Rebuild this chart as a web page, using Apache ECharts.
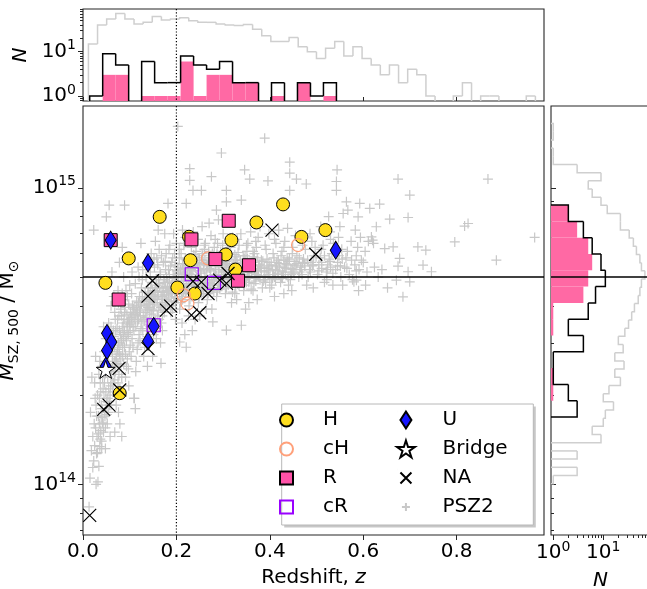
<!DOCTYPE html>
<html>
<head>
<meta charset="utf-8">
<script src="https://cdn.jsdelivr.net/npm/echarts@6.0.0/dist/echarts.min.js"></script>
<style>
html,body{margin:0;padding:0;background:#fff;}
#chart{width:647px;height:589px;}
</style>
</head>
<body>
<div id="chart"></div>
<script>
// ================= DATA =================
// Redshift z, mass M_SZ,500 in units of 1e14 Msun
const H = [[0.1642,7.98],[0.0979,5.78],[0.048,4.78],[0.227,6.84],[0.230,5.70],[0.3178,6.66],[0.3056,5.96],[0.3263,5.30],[0.3713,7.64],[0.4283,8.79],[0.4677,6.83],[0.519,7.20],[0.2021,4.61],[0.2392,4.40],[0.0786,2.03]];
const cH = [[0.4604,6.41],[0.2677,5.78],[0.2156,4.34],[0.2236,4.07]];
const R = [[0.0593,6.66],[0.312,7.74],[0.2321,6.70],[0.2835,5.75],[0.3555,5.48],[0.3319,4.86],[0.0764,4.20]];
const cR = [[0.2328,5.11],[0.2805,4.78],[0.1514,3.44]];
const U = [[0.0593,6.66],[0.1392,5.58],[0.5411,6.16],[0.1514,3.41],[0.1392,3.04],[0.0514,3.23],[0.0608,3.02],[0.0514,2.83],[0.0486,2.50]];
const Bridge = [[0.0486,2.44]];
const NA = [[0.4047,7.20],[0.4983,5.97],[0.1486,4.86],[0.1392,4.31],[0.2355,4.84],[0.2535,4.81],[0.2677,4.40],[0.2927,4.88],[0.3105,5.14],[0.3071,4.76],[0.1786,3.87],[0.1878,3.99],[0.2321,3.72],[0.2499,3.79],[0.1392,2.87],[0.0771,2.46],[0.0786,2.08],[0.0443,1.79],[0.0557,1.85],[0.0143,0.786]];
const PSZ2 = [
[0.013,0.84],[0.015,1.05],[0.018,1.3],[0.021,1.14],[0.024,1.6],[0.026,1.95],[0.028,1.0],[0.019,2.3],[0.029,1.27],[0.023,7.2],[0.027,2.7],[0.016,1.75],[0.03,1.45],
[0.032,1.02],[0.034,1.15],[0.036,1.34],[0.038,1.52],[0.04,1.4],[0.042,1.62],[0.044,1.5],[0.046,1.75],[0.048,1.55],[0.05,1.9],[0.033,1.7],[0.035,1.95],[0.037,2.2],[0.039,1.85],[0.041,2.5],[0.043,2.1],[0.045,2.8],[0.047,2.35],[0.049,3.1],[0.036,2.6],[0.044,3.4],[0.04,1.32],[0.05,7.98],[0.048,1.32],
[0.052,1.6],[0.054,1.75],[0.056,1.9],[0.058,2.0],[0.06,1.85],[0.062,2.2],[0.064,2.05],[0.066,2.4],[0.068,2.25],[0.07,2.6],[0.053,2.3],[0.055,2.55],[0.057,2.8],[0.059,2.45],[0.061,3.0],[0.063,2.7],[0.065,3.3],[0.067,2.9],[0.069,3.6],[0.055,3.5],[0.06,4.0],[0.066,4.3],[0.056,8.74],[0.062,5.2],[0.058,1.45],[0.068,1.5],
[0.071,1.85],[0.073,2.0],[0.075,2.2],[0.077,2.35],[0.079,2.1],[0.081,2.5],[0.083,2.3],[0.085,2.7],[0.087,2.55],[0.089,2.9],[0.072,2.65],[0.074,2.85],[0.076,3.0],[0.078,2.75],[0.08,3.2],[0.082,3.05],[0.084,3.4],[0.086,3.25],[0.088,3.6],[0.073,3.35],[0.077,3.7],[0.081,3.9],[0.085,4.2],[0.089,3.8],[0.075,4.5],[0.083,1.45],[0.079,1.6],[0.087,5.0],[0.089,8.74],[0.078,5.6],[0.084,6.3],[0.076,1.75],
[0.091,2.3],[0.093,2.5],[0.095,2.65],[0.097,2.45],[0.099,2.8],[0.101,2.95],[0.103,2.7],[0.105,3.1],[0.107,2.9],[0.109,3.3],[0.092,3.15],[0.094,3.4],[0.096,3.25],[0.098,3.6],[0.1,3.45],[0.102,3.8],[0.104,3.65],[0.106,4.0],[0.108,3.9],[0.095,4.3],[0.1,4.7],[0.105,5.2],[0.098,2.15],[0.109,1.95],[0.093,5.8],
[0.11,1.95],[0.112,1.8],[0.114,2.6],[0.116,2.85],[0.118,3.0],[0.12,3.2],[0.122,3.05],[0.124,3.35],[0.126,3.5],[0.128,3.3],[0.111,3.6],[0.113,3.75],[0.115,3.9],[0.117,3.55],[0.119,4.1],[0.121,4.3],[0.123,4.0],[0.125,4.6],[0.127,4.9],[0.118,5.4],[0.124,6.5],[0.113,2.4],
[0.13,2.7],[0.132,2.9],[0.134,3.1],[0.136,3.3],[0.138,3.15],[0.14,3.45],[0.142,3.6],[0.144,3.4],[0.146,3.75],[0.148,3.9],[0.131,3.55],[0.133,3.8],[0.135,4.0],[0.137,4.2],[0.139,3.95],[0.141,4.4],[0.143,4.15],[0.145,4.6],[0.147,4.35],[0.135,5.0],[0.141,5.5],[0.146,6.0],[0.138,2.5],
[0.149,2.7],[0.151,3.2],[0.153,3.4],[0.155,3.55],[0.157,3.35],[0.159,3.7],[0.161,3.85],[0.163,3.6],[0.165,4.0],[0.167,3.95],[0.15,4.1],[0.152,4.3],[0.154,4.5],[0.156,4.25],[0.158,4.7],[0.16,4.45],[0.162,4.9],[0.164,4.6],[0.166,5.1],[0.153,5.4],[0.158,5.8],[0.163,6.2],[0.167,2.56],[0.155,6.6],[0.161,7.2],[0.166,3.0],[0.157,3.1],
[0.168,3.5],[0.17,3.7],[0.172,3.9],[0.174,3.8],[0.176,4.05],[0.178,4.2],[0.18,4.0],[0.182,4.35],[0.184,4.15],[0.186,4.5],[0.169,4.3],[0.171,4.6],[0.173,4.45],[0.175,4.8],[0.177,4.65],[0.179,5.0],[0.181,4.85],[0.183,5.3],[0.185,5.1],[0.172,5.6],[0.178,6.0],[0.182,8.86],[0.175,7.0],[0.186,6.4],[0.17,3.3],
[0.188,3.8],[0.19,4.0],[0.192,3.9],[0.194,4.15],[0.196,4.3],[0.198,4.1],[0.2,4.4],[0.202,4.25],[0.204,4.55],[0.206,4.7],[0.189,4.5],[0.191,4.75],[0.193,4.6],[0.195,4.95],[0.197,5.1],[0.199,4.85],[0.201,5.25],[0.203,5.4],[0.205,5.15],[0.19,5.6],[0.196,6.0],[0.2,6.5],[0.203,16.1],[0.194,7.0],[0.206,5.8],[0.198,3.6],
[0.207,3.9],[0.209,4.1],[0.211,4.3],[0.213,4.2],[0.215,4.45],[0.217,4.6],[0.219,4.4],[0.221,4.75],[0.223,4.55],[0.225,4.9],[0.208,4.7],[0.21,5.0],[0.212,4.85],[0.214,5.2],[0.216,5.35],[0.218,5.1],[0.22,5.5],[0.222,5.7],[0.224,5.3],[0.21,6.0],[0.216,6.4],[0.221,8.86],[0.213,7.2],[0.219,6.8],[0.226,3.7],[0.212,3.5],[0.218,3.2],[0.207,3.02],[0.221,2.9],
[0.227,4.0],[0.229,4.2],[0.231,4.4],[0.233,4.3],[0.235,4.55],[0.237,4.7],[0.239,4.5],[0.241,4.85],[0.243,5.0],[0.245,4.75],[0.228,5.15],[0.23,5.3],[0.232,5.1],[0.234,5.5],[0.236,5.65],[0.238,5.4],[0.24,5.85],[0.242,6.1],[0.244,5.6],[0.23,6.6],[0.236,7.1],[0.2285,11.6],[0.2285,10.6],[0.2355,9.8],[0.24,3.6],[0.234,3.3],
[0.247,4.1],[0.249,4.3],[0.251,4.5],[0.253,4.4],[0.255,4.65],[0.257,4.8],[0.259,4.6],[0.261,5.0],[0.263,4.9],[0.265,5.2],[0.248,5.35],[0.25,5.5],[0.252,5.25],[0.254,5.7],[0.256,5.9],[0.258,5.55],[0.26,6.2],[0.262,6.5],[0.2535,9.8],[0.255,7.4],[0.264,3.9],[0.25,3.7],
[0.266,4.2],[0.268,4.4],[0.27,4.6],[0.272,4.5],[0.274,4.75],[0.276,4.9],[0.278,4.7],[0.28,5.1],[0.282,5.0],[0.284,5.3],[0.267,5.45],[0.269,5.6],[0.271,5.35],[0.273,5.8],[0.275,10.9],[0.277,6.0],[0.279,5.65],[0.281,6.3],[0.283,6.7],[0.2857,8.41],[0.27,7.6],[0.276,3.9],[0.278,3.53],
[0.286,4.3],[0.288,4.5],[0.29,4.7],[0.292,4.6],[0.294,4.85],[0.296,5.0],[0.298,4.8],[0.3,5.2],[0.302,5.1],[0.304,5.4],[0.287,5.55],[0.289,5.7],[0.291,5.45],[0.293,5.9],[0.295,6.1],[0.297,5.75],[0.299,6.4],[0.2963,13.1],[0.3,7.0],[0.29,7.8],
[0.305,4.4],[0.307,4.6],[0.309,4.8],[0.311,4.7],[0.313,4.95],[0.315,5.1],[0.317,4.9],[0.319,5.3],[0.321,5.2],[0.323,5.5],[0.306,5.65],[0.308,5.8],[0.31,5.55],[0.312,6.0],[0.307,8.97],[0.307,9.8],[0.316,6.3],[0.32,6.8],[0.307,3.31],[0.318,4.1],
[0.325,4.4],[0.327,4.65],[0.329,4.85],[0.331,4.75],[0.333,5.0],[0.335,5.15],[0.337,4.95],[0.339,5.35],[0.341,5.25],[0.343,5.55],[0.326,5.7],[0.328,5.85],[0.33,5.6],[0.332,6.05],[0.339,9.09],[0.334,6.4],[0.338,7.0],[0.339,3.44],[0.329,4.2],
[0.344,4.5],[0.346,4.7],[0.348,4.9],[0.35,4.8],[0.352,5.05],[0.354,5.2],[0.356,5.0],[0.358,5.4],[0.36,5.3],[0.362,5.6],[0.345,5.75],[0.347,5.9],[0.349,5.65],[0.351,6.1],[0.346,11.5],[0.357,10.7],[0.353,6.5],[0.359,7.1],[0.355,4.1],[0.348,3.9],
[0.364,4.5],[0.366,4.75],[0.368,4.95],[0.37,4.85],[0.372,5.1],[0.374,5.25],[0.376,5.05],[0.378,5.5],[0.38,5.35],[0.382,5.7],[0.365,5.85],[0.367,6.0],[0.371,6.3],[0.375,6.8],[0.379,7.4],[0.373,4.2],
[0.384,4.6],[0.386,4.85],[0.388,5.0],[0.39,4.9],[0.392,5.2],[0.394,5.35],[0.396,5.1],[0.398,5.6],[0.4,5.45],[0.389,14.7],[0.396,10.55],[0.392,6.2],[0.398,7.0],
[0.404,4.7],[0.406,4.95],[0.408,5.1],[0.41,5.0],[0.412,5.3],[0.414,5.45],[0.416,5.25],[0.418,5.7],[0.42,5.55],[0.407,6.0],[0.413,6.5],[0.419,7.2],[0.41,4.3],
[0.423,4.8],[0.425,5.0],[0.427,5.2],[0.429,5.1],[0.431,5.4],[0.433,5.55],[0.435,5.35],[0.437,5.8],[0.439,5.65],[0.426,6.1],[0.432,6.6],[0.438,7.3],[0.43,4.4],
[0.4426,12.2],[0.4426,11.2],[0.4426,9.8],[0.444,4.9],[0.446,5.1],[0.448,5.3],[0.45,5.2],[0.452,5.5],[0.454,5.65],[0.456,5.45],[0.458,5.9],[0.457,10.7],[0.449,6.3],[0.455,6.9],[0.447,4.5],
[0.462,5.0],[0.464,5.2],[0.466,5.4],[0.468,5.3],[0.47,5.6],[0.472,5.75],[0.474,5.55],[0.478,10.3],[0.476,6.2],[0.479,4.7],
[0.482,5.0],[0.485,5.3],[0.488,5.6],[0.491,5.45],[0.494,5.9],[0.497,6.3],[0.486,7.0],[0.493,4.6],
[0.502,5.1],[0.505,5.5],[0.508,5.8],[0.511,5.35],[0.514,6.4],[0.517,4.8],[0.509,7.4],
[0.521,5.2],[0.524,5.5],[0.527,5.75],[0.53,5.4],[0.533,6.0],[0.536,6.5],[0.522,4.9],[0.529,7.1],[0.535,4.7],[0.526,8.0],
[0.544,11.5],[0.5426,10.5],[0.5426,9.8],[0.541,5.3],[0.545,5.6],[0.548,5.9],[0.551,5.45],[0.554,6.2],[0.557,8.19],[0.547,6.8],[0.552,5.0],[0.556,4.7],[0.55,7.4],
[0.564,8.97],[0.567,8.41],[0.56,5.4],[0.563,5.8],[0.566,6.1],[0.57,5.1],[0.574,6.6],[0.577,4.9],
[0.5925,8.86],[0.589,7.98],[0.5854,4.88],[0.58,4.82],[0.582,5.5],[0.585,5.9],[0.588,6.3],[0.591,5.3],[0.594,6.8],[0.596,5.7],[0.583,7.2],[0.59,4.5],
[0.6175,6.83],[0.614,8.52],[0.6,5.6],[0.604,6.1],[0.608,5.2],[0.611,6.6],[0.605,4.7],
[0.628,7.39],[0.635,8.81],[0.62,6.66],[0.624,5.4],[0.632,5.0],[0.622,6.5],
[0.646,6.24],[0.64,5.3],[0.652,4.6],
[0.6567,7.84],[0.664,6.32],[0.671,4.88],[0.6745,5.44],[0.6745,10.7],
[0.678,5.78],[0.685,4.29],
[0.696,7.94],[0.6996,9.45],[0.696,5.21],[0.6996,4.82],
[0.717,6.32],[0.728,5.49],[0.734,6.16],
[0.746,5.21],[0.796,6.57],[0.8244,7.58],[0.817,7.43],[0.867,10.7],[0.885,5.70],[0.967,6.8],
// denser core of the PSZ2 cloud
[0.021,1.45],[0.023,1.2],[0.025,1.35],[0.027,1.55],[0.029,1.7],[0.031,1.28],[0.033,1.48],[0.035,1.6],[0.037,1.42],[0.039,1.68],[0.041,1.8],[0.043,1.6],[0.045,1.95],[0.047,1.7],[0.049,2.05],[0.031,2.0],[0.034,2.35],[0.038,2.05],[0.042,2.3],[0.046,2.2],[0.05,2.5],[0.025,2.2],[0.028,1.85],
[0.051,1.72],[0.053,1.95],[0.055,2.1],[0.057,1.85],[0.059,2.15],[0.061,2.35],[0.063,2.5],[0.065,2.2],[0.067,2.6],[0.069,2.4],[0.071,2.75],[0.073,2.55],[0.075,2.8],[0.077,2.55],[0.079,2.95],[0.081,2.7],[0.083,3.1],[0.085,2.9],[0.087,3.1],[0.089,3.3],[0.091,2.75],[0.093,3.05],[0.095,3.5],[0.097,3.2],[0.099,3.55],[0.054,2.7],[0.058,3.0],[0.062,2.85],[0.066,3.15],[0.07,3.3],[0.074,3.6],[0.078,3.3],[0.082,3.7],[0.086,3.5],[0.09,3.95],[0.094,3.75],[0.098,4.05],[0.06,3.4],[0.068,3.8],[0.076,4.1],[0.084,4.4],[0.092,4.5],
[0.101,3.3],[0.103,3.5],[0.105,3.7],[0.107,3.4],[0.109,3.75],[0.111,3.95],[0.113,3.4],[0.115,4.15],[0.117,3.8],[0.119,3.6],[0.121,3.85],[0.123,3.7],[0.125,4.05],[0.127,4.25],[0.129,3.7],[0.131,4.15],[0.133,4.45],[0.135,3.65],[0.137,3.9],[0.139,4.6],[0.141,4.05],[0.143,3.85],[0.145,4.25],[0.147,4.8],[0.149,4.5],[0.151,3.85],[0.153,4.05],[0.155,4.6],[0.157,4.9],[0.159,4.2],[0.161,4.35],[0.163,4.75],[0.165,5.2],[0.167,4.45],[0.169,4.1],[0.171,4.25],[0.173,4.9],[0.175,4.35],[0.177,5.3],[0.179,4.5],[0.181,4.6],[0.183,4.45],[0.185,4.8],[0.187,5.45],[0.189,4.25],[0.191,4.4],[0.193,5.1],[0.195,4.55],[0.197,5.5],[0.199,4.65],[0.104,4.4],[0.112,4.75],[0.12,5.0],[0.128,5.3],[0.136,5.6],[0.144,5.2],[0.152,5.75],[0.16,5.5],[0.168,5.9],[0.176,5.65],[0.184,6.2],[0.192,5.8],
[0.201,4.55],[0.203,4.75],[0.205,5.0],[0.207,4.4],[0.209,5.3],[0.211,4.65],[0.213,5.55],[0.215,4.85],[0.217,5.0],[0.219,5.75],[0.221,4.5],[0.223,5.2],[0.225,5.45],[0.227,4.7],[0.229,5.0],[0.231,5.6],[0.233,4.85],[0.235,5.25],[0.237,5.95],[0.239,4.65],[0.241,5.35],[0.243,4.4],[0.245,5.55],[0.247,4.95],[0.249,5.8],[0.251,4.75],[0.253,5.15],[0.255,6.0],[0.257,4.55],[0.259,5.3],[0.261,5.7],[0.263,4.7],[0.265,5.5],[0.267,4.9],[0.269,6.1],[0.271,4.8],[0.273,5.25],[0.275,5.55],[0.277,4.6],[0.279,5.9],[0.281,4.85],[0.283,5.45],[0.285,5.05],[0.287,6.0],[0.289,4.95],[0.291,5.2],[0.293,4.55],[0.295,5.6],[0.297,5.3],[0.299,4.7],[0.206,6.2],[0.218,6.5],[0.232,6.3],[0.246,6.7],[0.26,6.4],[0.274,6.9],[0.288,6.5],[0.212,4.2],[0.236,4.3],[0.258,4.35],[0.28,4.45],
[0.301,4.9],[0.304,5.25],[0.307,5.5],[0.31,4.75],[0.313,5.75],[0.316,5.0],[0.319,5.45],[0.322,4.85],[0.325,5.95],[0.328,5.2],[0.331,5.45],[0.334,4.7],[0.337,5.7],[0.34,5.1],[0.343,5.9],[0.346,4.95],[0.349,5.35],[0.352,5.75],[0.355,4.8],[0.358,5.55],[0.361,5.15],[0.364,6.1],[0.367,5.3],[0.37,5.0],[0.373,5.8],[0.376,5.45],[0.379,4.9],[0.382,5.25],[0.385,5.65],[0.388,5.4],[0.391,4.8],[0.394,5.75],[0.397,5.25],[0.4,5.0],[0.403,5.5],[0.406,5.3],[0.409,5.8],[0.412,4.9],[0.415,5.6],[0.418,5.15],[0.421,5.4],[0.424,5.9],[0.427,4.95],[0.43,5.7],[0.433,5.2],[0.436,5.5],[0.439,5.0],[0.442,5.75],[0.445,5.35],[0.448,6.0],[0.31,6.5],[0.33,6.7],[0.35,6.4],[0.37,6.6],[0.39,6.4],[0.41,6.7],[0.43,6.3],[0.32,4.45],[0.36,4.55],[0.4,4.6],[0.44,4.7],
[0.452,5.15],[0.458,5.55],[0.463,5.8],[0.469,5.1],[0.475,5.45],[0.481,5.7],[0.487,5.2],[0.493,5.5],[0.499,5.85],[0.505,5.25],[0.511,5.6],[0.517,5.9],[0.523,5.3],[0.529,5.65],[0.535,5.15],[0.545,5.45],[0.555,5.75],[0.565,5.35],[0.575,5.7],[0.585,5.25],[0.47,6.4],[0.49,6.6],[0.51,6.2],[0.53,6.7]
];

// Histogram of redshift (top panel)
const zGrayBins = {lo: 0.0116, hi: 0.9881, n: 50};
const zGrayCounts = [15,40,55,73,55,42,46,62,52,55,58,50,46,46,42,40,39,41,32,23,17,17,21,13,10,7,12,17,8,13,7,5,3,5,2,4,3,1,0,0,1,2,0,1,1,0,0,0,1,0];
const zSampleBins = {lo: 0.01435, hi: 0.5426, n: 19};
const zSampleCounts = [1,9,5,0,6,2,2,8,5,4,6,2,2,0,2,0,2,1,2];
const zDiffuseCounts = [0,3,3,0,1,1,1,6,1,3,3,2,2,0,1,0,2,0,1];

// Histogram of mass (right panel), bins ascending in mass (1e14 Msun, log-spaced)
const mGrayBins = {lo: 1.0055, hi: 16.47, n: 44};
const mGrayCounts = [1,3,0,3,0,9,6,10,11,16,10,13,22,17,26,17,25,20,27,32,37,42,50,54,58,68,58,54,46,40,33,22,22,12,9,6,5,9,3,1,1,0,1,1];
const mSampleBins = {lo: 1.6869, hi: 8.743, n: 13};
const mSampleCounts = [3,2,1,1,4,2,5,7,11,9,6,4,2];
const mDiffuseCounts = [0,1,1,0,0,1,1,4,5,6,5,3,2];

// Reference values
const zCut = 0.2;
const mCut = 5.0;

// Tick values
const zTicks = [0, 0.2, 0.4, 0.6, 0.8];
const mMajor = [1, 10];
const mMinor = [0.7,0.8,0.9,2,3,4,5,6,7,8,9];
const nMajor = [1, 10];
const nMinorTop = [0.8,0.9,2,3,4,5,6,7,8,9,20,30,40,50,60,70,80,90];
const nMinorRight = [2,3,4,5,6,7,8,9,20,30,40,50,60,70,80];

// ================= RENDER =================
const FONT = 'DejaVu Sans';
const Z_RANGE = [0, 0.987];
const M_RANGE = [0.675, 18.87];
const NTOP_RANGE = [0.77, 92];
const NRIGHT_RANGE = [0.9, 86];
const TICKC = '#262626';
const PINK = '#ff69a4';
const GRAYH = '#cfcfcf';

function linEdges(b){const e=[];for(let i=0;i<=b.n;i++)e.push(b.lo+(b.hi-b.lo)*i/b.n);return e;}
function logEdges(b){const a=Math.log10(b.lo),c=Math.log10(b.hi);const e=[];for(let i=0;i<=b.n;i++)e.push(Math.pow(10,a+(c-a)*i/b.n));return e;}

function stepSeries(xi, yi, edges, counts, base, color, lw, horiz, z){
  return {
    type:'custom', xAxisIndex:xi, yAxisIndex:yi, z:z, silent:true, clip:false, animation:false,
    encode: horiz ? {y:[0,1], x:2} : {x:[0,1], y:2},
    data: counts.map((c,i)=>[edges[i], edges[i+1], c]),
    renderItem(params, api){
      const i = params.dataIndex;
      const e0 = api.value(0), e1 = api.value(1), c = api.value(2);
      const prev = i>0 ? counts[i-1] : 0;
      const lv = v => v>0 ? v : base;
      const P = (e,v) => horiz ? api.coord([lv(v), e]) : api.coord([e, lv(v)]);
      const pts = [];
      if (prev !== c) pts.push(P(e0, prev));
      if (c > 0) { pts.push(P(e0,c)); pts.push(P(e1,c)); if (i === counts.length-1) pts.push(P(e1,0)); }
      else if (prev > 0) pts.push(P(e0,0));
      if (pts.length < 2) return {type:'group', children:[]};
      return {type:'polyline', shape:{points:pts}, style:{stroke:color, lineWidth:lw, fill:null, lineJoin:'miter'}};
    }
  };
}
function fillSeries(xi, yi, edges, counts, base, color, horiz, z){
  return {
    type:'custom', xAxisIndex:xi, yAxisIndex:yi, z:z, silent:true, clip:false, animation:false,
    encode: horiz ? {y:[0,1], x:2} : {x:[0,1], y:2},
    data: counts.map((c,i)=>[edges[i], edges[i+1], c]),
    renderItem(params, api){
      const c = api.value(2);
      if (!(c>0)) return {type:'group', children:[]};
      const a = horiz ? api.coord([base, api.value(0)]) : api.coord([api.value(0), base]);
      const b = horiz ? api.coord([c, api.value(1)]) : api.coord([api.value(1), c]);
      return {type:'rect', shape:{x:Math.min(a[0],b[0]), y:Math.min(a[1],b[1]), width:Math.abs(b[0]-a[0]), height:Math.abs(b[1]-a[1])}, style:{fill:color}};
    }
  };
}
function refLine(xi, yi, vertical, pt, style, z){
  return {
    type:'custom', xAxisIndex:xi, yAxisIndex:yi, z:z, silent:true, clip:false, animation:false,
    data:[pt],
    renderItem(params, api){
      const cs = params.coordSys;
      const p = api.coord([api.value(0), api.value(1)]);
      const shape = vertical ? {x1:p[0], y1:cs.y, x2:p[0], y2:cs.y+cs.height} : {x1:cs.x, y1:p[1], x2:cs.x+cs.width, y2:p[1]};
      return {type:'line', shape:shape, style:style};
    }
  };
}

const supRich = {sup:{fontSize:14, lineHeight:14, padding:[0,0,12,0], verticalAlign:'top', fontFamily:FONT, color:'#000'}};
const expFmt = off => v => '10{sup|' + (off + Math.round(Math.log10(v))) + '}';
const labelBase = {fontFamily:FONT, fontSize:20, color:'#000', lineHeight:26, rich:supRich};

function minorAxis(grid, type, range, vals, pos, inside, len){
  return {gridIndex:grid, type:type, min:range[0], max:range[1], position:pos, logBase:10,
    axisLine:{show:false}, splitLine:{show:false}, axisLabel:{show:false},
    axisTick:{show:true, inside:inside, length:len, customValues:vals, lineStyle:{color:TICKC, width:1}}};
}

const STAR = 'path://M50 0L61.23 34.55L97.55 34.55L68.16 55.9L79.39 90.45L50 69.1L20.61 90.45L31.84 55.9L2.45 34.55L38.77 34.55Z';
const XSYM = 'path://M0 0L10 10M10 0L0 10';
const PLUS = 'path://M5 0L5 10M0 5L10 5';
const IC_CIRCLE = 'path://M0 0L0.01 0M17 17L17.01 17M15 8.5A6.5 6.5 0 1 1 2 8.5A6.5 6.5 0 1 1 15 8.5Z';
const IC_RECT = 'path://M0 0L0.01 0M17 17L17.01 17M2 2L15 2L15 15L2 15Z';
const IC_DIAM = 'path://M0 0L0.01 0M17 17L17.01 17M8.5 0L14 8.5L8.5 17L3 8.5Z';
const IC_X = 'path://M0 0L0.01 0M17 17L17.01 17M3 3L14 14M14 3L3 14';
const IC_PLUS = 'path://M0 0L0.01 0M17 17L17.01 17M8.5 4.5L8.5 12.5M4.5 8.5L12.5 8.5';

const zGE = linEdges(zGrayBins), zSE = linEdges(zSampleBins);
const mGE = logEdges(mGrayBins), mSE = logEdges(mSampleBins);

function sc(name, data, symbol, size, style, z, keep){
  return {type:'scatter', name:name, xAxisIndex:0, yAxisIndex:0, data:data, symbol:symbol, symbolSize:size,
    symbolKeepAspect:!!keep, itemStyle:Object.assign({opacity:1}, style), z:z, silent:true, animation:false,
    emphasis:{disabled:true}};
}

const option = {
  animation:false,
  grid:[
    {left:83, top:106, width:461, height:429, show:true, borderColor:'#262626', borderWidth:1.1, backgroundColor:'rgba(0,0,0,0)', outerBoundsMode:'none', containLabel:false},
    {left:83, top:9, width:461, height:92, show:true, borderColor:'#262626', borderWidth:1.1, backgroundColor:'rgba(0,0,0,0)', outerBoundsMode:'none', containLabel:false},
    {left:551, top:106, width:99, height:429, show:true, borderColor:'#262626', borderWidth:1.1, backgroundColor:'rgba(0,0,0,0)', outerBoundsMode:'none', containLabel:false}
  ],
  xAxis:[
    {gridIndex:0, type:'value', min:Z_RANGE[0], max:Z_RANGE[1], position:'bottom',
     axisLine:{show:false}, splitLine:{show:false},
     axisTick:{show:true, length:5, customValues:zTicks, lineStyle:{color:TICKC, width:1}},
     axisLabel:{customValues:zTicks, formatter:v=>v.toFixed(1), fontFamily:FONT, fontSize:20, color:'#000', margin:7},
     name:'Redshift, {it|z}', nameLocation:'middle', nameGap:33,
     nameTextStyle:{fontFamily:FONT, fontSize:20, color:'#000', rich:{it:{fontFamily:FONT, fontSize:20, fontStyle:'italic', color:'#000'}}}},
    {gridIndex:1, type:'value', min:Z_RANGE[0], max:Z_RANGE[1], position:'bottom',
     axisLine:{show:false}, splitLine:{show:false}, axisLabel:{show:false},
     axisTick:{show:true, inside:true, length:4, customValues:zTicks, lineStyle:{color:TICKC, width:1}}},
    {gridIndex:2, type:'log', logBase:10, min:NRIGHT_RANGE[0], max:NRIGHT_RANGE[1], position:'bottom',
     axisLine:{show:false}, splitLine:{show:false},
     axisTick:{show:true, length:5, customValues:nMajor, lineStyle:{color:TICKC, width:1}},
     axisLabel:Object.assign({customValues:nMajor, formatter:expFmt(0), margin:5}, labelBase),
     name:'N', nameLocation:'middle', nameGap:33,
     nameTextStyle:{fontFamily:FONT, fontSize:20, fontStyle:'italic', color:'#000'}},
    minorAxis(2, 'log', NRIGHT_RANGE, nMinorRight, 'bottom', false, 3)
  ],
  yAxis:[
    {gridIndex:0, type:'log', logBase:10, min:M_RANGE[0], max:M_RANGE[1], position:'left',
     axisLine:{show:false}, splitLine:{show:false},
     axisTick:{show:true, length:5, customValues:mMajor, lineStyle:{color:TICKC, width:1}},
     axisLabel:Object.assign({customValues:mMajor, formatter:expFmt(14), margin:7}, labelBase),
     name:'{it|M}{sub|SZ, 500} / M{sub|\u2299}', nameLocation:'middle', nameRotate:90, nameGap:48,
     nameTextStyle:{fontFamily:FONT, fontSize:20, color:'#000', lineHeight:28,
       rich:{it:{fontFamily:FONT, fontSize:20, fontStyle:'italic', color:'#000', lineHeight:28},
             sub:{fontFamily:FONT, fontSize:14, color:'#000', lineHeight:14, padding:[14,0,0,0], verticalAlign:'bottom'}}}},
    minorAxis(0, 'log', M_RANGE, mMinor, 'left', false, 3),
    {gridIndex:1, type:'log', logBase:10, min:NTOP_RANGE[0], max:NTOP_RANGE[1], position:'left',
     axisLine:{show:false}, splitLine:{show:false},
     axisTick:{show:true, length:5, customValues:nMajor, lineStyle:{color:TICKC, width:1}},
     axisLabel:Object.assign({customValues:nMajor, formatter:expFmt(0), margin:7}, labelBase),
     name:'N', nameLocation:'middle', nameRotate:90, nameGap:48,
     nameTextStyle:{fontFamily:FONT, fontSize:20, fontStyle:'italic', color:'#000'}},
    minorAxis(1, 'log', NTOP_RANGE, nMinorTop, 'left', false, 3),
    {gridIndex:2, type:'log', logBase:10, min:M_RANGE[0], max:M_RANGE[1], position:'left',
     axisLine:{show:false}, splitLine:{show:false}, axisLabel:{show:false},
     axisTick:{show:true, inside:true, length:5, customValues:mMajor, lineStyle:{color:TICKC, width:1}}},
    minorAxis(2, 'log', M_RANGE, mMinor, 'left', true, 3)
  ],
  legend:[
    {data:[{name:'H', icon:IC_CIRCLE},{name:'cH', icon:IC_CIRCLE},{name:'R', icon:IC_RECT},{name:'cR', icon:IC_RECT}],
     orient:'vertical', left:277, top:410, itemWidth:63, itemHeight:17, itemGap:9, padding:0, selectedMode:false, z:7,
     textStyle:{fontFamily:FONT, fontSize:20, color:'#000', lineHeight:20}},
    {data:[{name:'U', icon:IC_DIAM},{name:'Bridge'},{name:'NA', icon:IC_X},{name:'PSZ2', icon:IC_PLUS}],
     orient:'vertical', left:396, top:410, itemWidth:63, itemHeight:17, itemGap:9, padding:0, selectedMode:false, z:7,
     textStyle:{fontFamily:FONT, fontSize:20, color:'#000', lineHeight:20}}
  ],
  graphic:[
    {type:'rect', shape:{x:284.2, y:406.5, width:251.6, height:121}, style:{fill:'rgba(0,0,0,0.22)'}, z:5, silent:true},
    {type:'rect', shape:{x:281.7, y:404, width:251.6, height:121}, style:{fill:'#ffffff', stroke:'#b8b8b8', lineWidth:1}, z:6, silent:true}
  ],
  series:[
    sc('PSZ2', PSZ2, PLUS, 10, {color:'rgba(0,0,0,0)', borderColor:'#c8c8c8', borderWidth:1.2}, 2),
    refLine(0, 0, true, [zCut, 1], {stroke:'#000', lineWidth:1.2, lineDash:[1.2,2]}, 3),
    refLine(0, 0, false, [0.5, mCut], {stroke:'#000', lineWidth:1.5}, 3),
    sc('H', H, 'circle', 13, {color:'#ffde1f', borderColor:'#000', borderWidth:1}, 4),
    sc('cH', cH, 'circle', 13, {color:'rgba(0,0,0,0)', borderColor:'#ffa07a', borderWidth:1.2}, 4),
    sc('R', R, 'rect', 13, {color:'#ff52a8', borderColor:'#000', borderWidth:1}, 4),
    sc('cR', cR, 'rect', 13, {color:'rgba(0,0,0,0)', borderColor:'#9900ff', borderWidth:1.2}, 4),
    sc('U', U, 'diamond', [11,18], {color:'#1515ff', borderColor:'#000', borderWidth:1}, 4),
    sc('Bridge', Bridge, STAR, 19, {color:'#ffffff', borderColor:'#000', borderWidth:1}, 4, true),
    sc('NA', NA, XSYM, 13, {color:'rgba(0,0,0,0)', borderColor:'#000', borderWidth:1.2}, 4),
    // top histogram
    stepSeries(1, 2, zGE, zGrayCounts, NTOP_RANGE[0], GRAYH, 1.5, false, 2),
    fillSeries(1, 2, zSE, zDiffuseCounts, NTOP_RANGE[0], PINK, false, 3),
    stepSeries(1, 2, zSE, zSampleCounts, NTOP_RANGE[0], '#000', 1.5, false, 4),
    refLine(1, 2, true, [zCut, 1], {stroke:'#000', lineWidth:1.2, lineDash:[1.2,2]}, 5),
    // right histogram
    stepSeries(2, 4, mGE, mGrayCounts, NRIGHT_RANGE[0], GRAYH, 1.5, true, 2),
    fillSeries(2, 4, mSE, mDiffuseCounts, NRIGHT_RANGE[0], PINK, true, 3),
    stepSeries(2, 4, mSE, mSampleCounts, NRIGHT_RANGE[0], '#000', 1.5, true, 4),
    refLine(2, 4, false, [1, mCut], {stroke:'#000', lineWidth:1.5}, 5)
  ]
};

const chart = echarts.init(document.getElementById('chart'), null, {renderer:'canvas', width:647, height:589});
chart.setOption(option);
</script>
</body>
</html>
